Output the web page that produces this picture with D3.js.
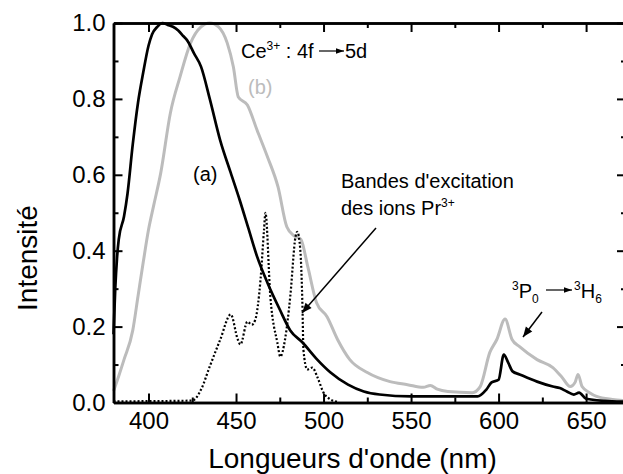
<!DOCTYPE html>
<html>
<head>
<meta charset="utf-8">
<script src="https://cdn.jsdelivr.net/npm/d3@7"></script>
<style>
  body { margin: 0; background: #fff; }
  svg { display: block; font-family: "Liberation Sans", Arial, sans-serif; }
  .axis path, .axis line { stroke: #000; }
  .axis path { stroke-width: 2.5; }
  .axis line { stroke-width: 2; }
  .axis text { font-size: 24px; fill: #000; font-family: "Liberation Sans", Arial, sans-serif; }
</style>
</head>
<body>
<svg width="623" height="474"></svg>
<script>
// spectrum (a), black
const wlA = [380, 381, 382, 383, 386, 388, 391, 394, 397, 400, 402, 405, 408, 411, 414, 417, 420, 422, 426, 430, 435, 441, 447, 452, 457, 462, 468, 475, 481, 488, 496, 504, 514, 523, 532, 550, 571, 588, 593, 596, 600, 603, 605.5, 608, 612, 622, 631, 635, 639, 643, 646, 650, 665, 673];
const intA = [0.18, 0.30, 0.38, 0.43, 0.49, 0.55, 0.68, 0.79, 0.87, 0.94, 0.97, 0.99, 1.0, 0.995, 0.99, 0.98, 0.965, 0.955, 0.92, 0.885, 0.80, 0.69, 0.605, 0.535, 0.46, 0.385, 0.315, 0.245, 0.19, 0.158, 0.115, 0.079, 0.047, 0.029, 0.021, 0.016, 0.016, 0.016, 0.034, 0.053, 0.06, 0.126, 0.105, 0.082, 0.074, 0.055, 0.042, 0.038, 0.029, 0.021, 0.026, 0.01, 0.003, 0.002];

// spectrum (b), grey
const wlB = [380, 383, 386, 391, 394, 397, 400, 403, 407, 412.5, 418, 424, 430, 435, 440, 445, 448.5, 451.3, 456.5, 462, 468, 474, 479, 483, 487, 491, 496, 502, 508, 515, 525, 538, 548, 557, 561, 565, 571, 585, 589.5, 595, 599, 603.7, 607.7, 612, 622, 631, 636, 641, 643.7, 645.4, 647.7, 652, 656, 665, 673];
const intB = [0.03, 0.07, 0.113, 0.19, 0.28, 0.37, 0.455, 0.52, 0.605, 0.763, 0.858, 0.947, 0.99, 1.0, 0.99, 0.947, 0.884, 0.805, 0.784, 0.718, 0.647, 0.568, 0.463, 0.44, 0.43, 0.358, 0.263, 0.226, 0.166, 0.113, 0.079, 0.055, 0.047, 0.04, 0.045, 0.035, 0.029, 0.026, 0.042, 0.132, 0.166, 0.22, 0.166, 0.147, 0.113, 0.092, 0.068, 0.042, 0.053, 0.074, 0.042, 0.026, 0.016, 0.008, 0.005];

// Pr3+ excitation bands, dotted
const wlPr = [380, 425, 430, 435, 441, 447, 451, 452.5, 456.5, 459, 461, 464, 466, 466.8, 469.6, 473.6, 475.3, 478, 481, 484, 485, 486.7, 488, 488.5, 490.7, 493.6, 496.4, 500, 504, 508];
const intPr = [0.003, 0.005, 0.034, 0.095, 0.166, 0.232, 0.166, 0.153, 0.213, 0.205, 0.218, 0.324, 0.455, 0.5, 0.28, 0.158, 0.121, 0.166, 0.28, 0.437, 0.45, 0.403, 0.245, 0.139, 0.087, 0.092, 0.068, 0.026, 0.008, 0.002];

const xMajor = [400, 450, 500, 550, 600, 650];
const xMinor = [425, 475, 525, 575, 625];
const yMajor = [0, 0.2, 0.4, 0.6, 0.8, 1.0];
const yMinor = [0.1, 0.3, 0.5, 0.7, 0.9];

const svg = d3.select("svg");
const pl = 113.5, pr = 626, pt = 23, pb = 402.5;

const x = d3.scaleLinear().domain([380, 672.8]).range([pl, pr]);
const y = d3.scaleLinear().domain([0, 1]).range([pb, pt]);

const toPts = (xs, ys) => xs.map((d, i) => [d, ys[i]]);
const line = d3.line().x(d => x(d[0])).y(d => y(d[1])).curve(d3.curveMonotoneX);

// curves
svg.append("path").datum(toPts(wlB, intB))
  .attr("d", line).attr("fill", "none")
  .attr("stroke", "#bcbcbc").attr("stroke-width", 3);

svg.append("path").datum(toPts(wlPr, intPr))
  .attr("d", line).attr("fill", "none")
  .attr("stroke", "#000").attr("stroke-width", 2.2)
  .attr("stroke-dasharray", "2,2");

svg.append("path").datum(toPts(wlA, intA))
  .attr("d", line).attr("fill", "none")
  .attr("stroke", "#000").attr("stroke-width", 2.7);

// axes: major + minor ticks, all pointing inward
function addAxis(axisFn, scale, transform, major, minor, labels, pad) {
  svg.append("g").attr("class", "axis").attr("transform", transform)
    .call(axisFn(scale).tickValues(minor).tickSizeInner(-5).tickSizeOuter(0).tickFormat(""));
  svg.append("g").attr("class", "axis").attr("transform", transform)
    .call(axisFn(scale).tickValues(major).tickSizeInner(-9).tickSizeOuter(0)
      .tickPadding(pad)
      .tickFormat(labels ? labels : ""));
}

addAxis(d3.axisBottom, x, `translate(0,${pb})`, xMajor, xMinor, d3.format("d"), 9);
addAxis(d3.axisTop, x, `translate(0,${pt})`, xMajor, xMinor, null, 0);
addAxis(d3.axisLeft, y, `translate(${pl},0)`, yMajor, yMinor, d3.format(".1f"), 8);
addAxis(d3.axisRight, y, `translate(${pr},0)`, yMajor, yMinor, null, 0);

// axis titles
svg.append("text")
  .attr("x", (205 + 500) / 2).attr("y", 468)
  .attr("text-anchor", "middle").attr("font-size", 28)
  .text("Longueurs d'onde (nm)");

svg.append("text")
  .attr("transform", "translate(37,258) rotate(-90)")
  .attr("text-anchor", "middle").attr("font-size", 28)
  .text("Intensité");

// arrow markers
const defs = svg.append("defs");
defs.append("marker").attr("id", "head").attr("viewBox", "0 0 10 10")
  .attr("refX", 10).attr("refY", 5).attr("markerWidth", 9).attr("markerHeight", 8)
  .attr("markerUnits", "userSpaceOnUse").attr("orient", "auto")
  .append("path").attr("d", "M0,1.5 L10,5 L0,8.5 Z").attr("fill", "#000");
defs.append("marker").attr("id", "headBig").attr("viewBox", "0 0 10 10")
  .attr("refX", 10).attr("refY", 5).attr("markerWidth", 12).attr("markerHeight", 10)
  .attr("markerUnits", "userSpaceOnUse").attr("orient", "auto")
  .append("path").attr("d", "M0,1 L10,5 L0,9 Z").attr("fill", "#000");

const ann = svg.append("g").attr("font-size", 20);

// Ce3+ : 4f -> 5d
const ce = ann.append("text").attr("x", 241).attr("y", 58);
ce.append("tspan").text("Ce");
ce.append("tspan").attr("dy", -8).attr("font-size", 12).text("3+");
ce.append("tspan").attr("dy", 8).text(" : 4f");
ann.append("text").attr("x", 345).attr("y", 58).text("5d");
ann.append("line").attr("x1", 319).attr("y1", 51).attr("x2", 344).attr("y2", 51)
  .attr("stroke", "#000").attr("stroke-width", 1.2).attr("marker-end", "url(#head)");

ann.append("text").attr("x", 248).attr("y", 94).attr("fill", "#bcbcbc").text("(b)");
ann.append("text").attr("x", 193).attr("y", 181).text("(a)");

ann.append("text").attr("x", 341).attr("y", 188).text("Bandes d'excitation");
const prT = ann.append("text").attr("x", 341).attr("y", 215);
prT.append("tspan").text("des ions Pr");
prT.append("tspan").attr("dy", -8).attr("font-size", 12).text("3+");
ann.append("line").attr("x1", 376).attr("y1", 228).attr("x2", 302).attr("y2", 313)
  .attr("stroke", "#000").attr("stroke-width", 1.5).attr("marker-end", "url(#headBig)");

// 3P0 -> 3H6
const p0 = ann.append("text").attr("x", 512).attr("y", 298);
p0.append("tspan").attr("dy", -8).attr("font-size", 12).text("3");
p0.append("tspan").attr("dy", 8).text("P");
p0.append("tspan").attr("dy", 5).attr("font-size", 12).text("0");
const h6 = ann.append("text").attr("x", 574).attr("y", 298);
h6.append("tspan").attr("dy", -8).attr("font-size", 12).text("3");
h6.append("tspan").attr("dy", 8).text("H");
h6.append("tspan").attr("dy", 5).attr("font-size", 12).text("6");
ann.append("line").attr("x1", 546).attr("y1", 290).attr("x2", 572).attr("y2", 290)
  .attr("stroke", "#000").attr("stroke-width", 1.2).attr("marker-end", "url(#head)");
ann.append("line").attr("x1", 542).attr("y1", 312).attr("x2", 523).attr("y2", 337)
  .attr("stroke", "#000").attr("stroke-width", 1.5).attr("marker-end", "url(#headBig)");
</script>
</body>
</html>
